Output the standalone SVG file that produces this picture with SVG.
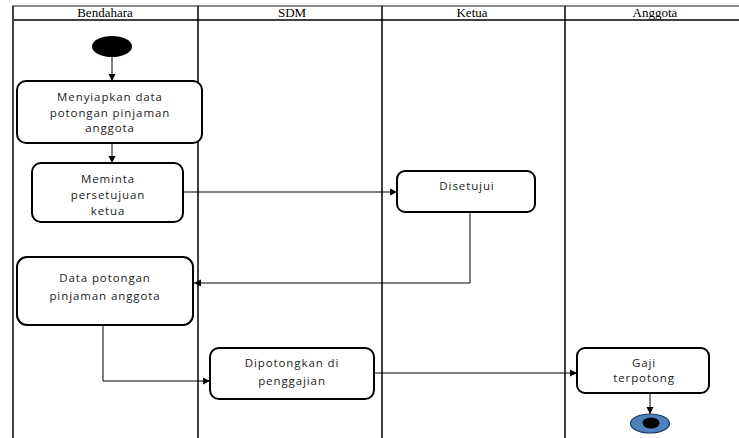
<svg xmlns="http://www.w3.org/2000/svg" width="739" height="438" viewBox="0 0 739 438">
<defs>
<marker id="ah" markerWidth="8" markerHeight="8" refX="7" refY="4" orient="auto" markerUnits="userSpaceOnUse">
<path d="M0,0.5 L7,4 L0,7.5 Z" fill="#000"/>
</marker>
<style>
.lane{stroke:#000;stroke-width:1.5;fill:none}
.hdr{font-family:"Liberation Serif",serif;font-size:13px;text-anchor:middle;fill:#000}
.box{fill:#fff;stroke:#000;stroke-width:2}
.lbl{font-family:"Open Sans","Liberation Sans",sans-serif;font-size:11.5px;letter-spacing:0.9px;text-anchor:middle;fill:#222}
.con{stroke:#000;stroke-width:1;fill:none}
</style>
</defs>
<rect width="739" height="438" fill="#fff"/>
<g id="lanes">
<line x1="12" y1="6" x2="739" y2="6" stroke="#888" stroke-width="2"/>
<line x1="13" y1="20" x2="739" y2="20" class="lane"/>
<line x1="13" y1="6" x2="13" y2="438" stroke="#444" stroke-width="2"/>
<line x1="198" y1="6" x2="198" y2="438" class="lane"/>
<line x1="382" y1="6" x2="382" y2="438" class="lane"/>
<line x1="565" y1="6" x2="565" y2="438" class="lane"/>
<text class="hdr" x="105" y="17">Bendahara</text>
<text class="hdr" x="292" y="17">SDM</text>
<text class="hdr" x="472" y="17">Ketua</text>
<text class="hdr" x="655" y="17">Anggota</text>
</g>
<g id="connectors">
<line class="con" x1="112" y1="57" x2="112" y2="81" marker-end="url(#ah)"/>
<line class="con" x1="112" y1="143" x2="112" y2="163" marker-end="url(#ah)"/>
<line class="con" x1="183" y1="192" x2="397" y2="192" marker-end="url(#ah)"/>
<polyline class="con" points="470,212 470,283 194,283" marker-end="url(#ah)"/>
<polyline class="con" points="103,325 103,381 210,381" marker-end="url(#ah)"/>
<line class="con" x1="374" y1="373" x2="577" y2="373" marker-end="url(#ah)"/>
<line class="con" x1="650" y1="393" x2="650" y2="414" marker-end="url(#ah)"/>
</g>
<g id="start">
<ellipse cx="112" cy="46.5" rx="20" ry="10.5" fill="#000"/>
</g>
<g id="n1">
<rect class="box" x="17" y="81" width="185" height="62" rx="9"/>
<text class="lbl" x="110" y="101">Menyiapkan data</text>
<text class="lbl" x="110" y="117">potongan pinjaman</text>
<text class="lbl" x="110" y="132">anggota</text>
</g>
<g id="n2">
<rect class="box" x="32" y="163" width="151" height="59" rx="9"/>
<text class="lbl" x="108" y="183">Meminta</text>
<text class="lbl" x="108" y="199">persetujuan</text>
<text class="lbl" x="108" y="215">ketua</text>
</g>
<g id="n3">
<rect class="box" x="397" y="171" width="138" height="41" rx="8"/>
<text class="lbl" x="467" y="190">Disetujui</text>
</g>
<g id="n4">
<rect class="box" x="17" y="257" width="176" height="68" rx="10"/>
<text class="lbl" x="105" y="282">Data potongan</text>
<text class="lbl" x="105" y="300">pinjaman anggota</text>
</g>
<g id="n5">
<rect class="box" x="210" y="348" width="164" height="51" rx="9"/>
<text class="lbl" x="292" y="367">Dipotongkan di</text>
<text class="lbl" x="292" y="385">penggajian</text>
</g>
<g id="n6">
<rect class="box" x="577" y="348" width="132" height="45" rx="8"/>
<text class="lbl" x="644" y="367">Gaji</text>
<text class="lbl" x="644" y="382">terpotong</text>
</g>
<g id="end">
<ellipse cx="650" cy="423.5" rx="19.5" ry="9.5" fill="#4F81BD" stroke="#1F3A60" stroke-width="1.2"/>
<ellipse cx="651" cy="423" rx="8.5" ry="5.5" fill="#000"/>
</g>
</svg>
